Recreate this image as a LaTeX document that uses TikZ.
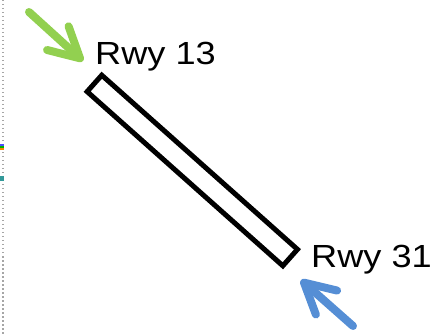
\documentclass[tikz,border=0pt]{standalone}
\usepackage{fontspec}
\setmainfont{Liberation Sans}
\usetikzlibrary{arrows.meta}
\definecolor{appgreen}{RGB}{146,208,80}
\definecolor{appblue}{RGB}{85,142,213}
\tikzset{
  runway/.style={draw=black, line width=5pt, line join=miter, minimum width=262pt, minimum height=22pt, inner sep=0pt},
  rwylabel/.style={font=\fontsize{32pt}{32pt}\selectfont, inner sep=0pt, anchor=base west, xscale=1.13},
  approach/.style={line width=8pt, line cap=round, line join=round,
    -{Straight Barb[round, length=30pt, width=32pt]}},
  edge/.style={draw=black!35, line width=1.5pt, dash pattern=on 1.5pt off 2.5pt}
}
\begin{document}
\begin{tikzpicture}[x=1pt, y=-1pt]
  \useasboundingbox (0,0) rectangle (445,334);
  % dotted frame edge on the left
  \coordinate (frameTop) at (3,0);
  \coordinate (frameBot) at (3,334);
  \draw[edge] (frameTop) -- (frameBot);
  \fill[blue!70] (0,144) rectangle (4,146);
  \fill[green!70!black] (0,146) rectangle (4,148);
  \fill[orange] (0,148) rectangle (4,150);
  \fill[teal!80] (0,176) rectangle (4,181);

  % runway strip
  \node[runway, rotate=-41.67] (rwy) at (192.3,170.5) {};

  % labels
  \node[rwylabel] (lab13) at (95,65) {Rwy 13};
  \node[rwylabel] (lab31) at (311,267) {Rwy 31};

  % approach arrows
  \coordinate (gTail) at (29,12);
  \coordinate (gTip) at (83,61);
  \coordinate (bTail) at (353,326);
  \coordinate (bTip) at (301,280);
  \draw[approach, appgreen] (gTail) -- (gTip);
  \draw[approach, appblue] (bTail) -- (bTip);
\end{tikzpicture}
\end{document}
